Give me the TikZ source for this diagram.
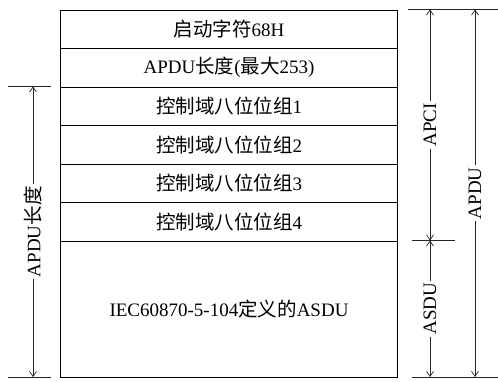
\documentclass[tikz,border=0pt]{standalone}
\usepackage{fontspec}
\setmainfont{Liberation Serif}
\newfontfamily\cjkfont{Noto Sans CJK SC}
\usetikzlibrary{arrows.meta}
\newcommand\zh[1]{{\cjkfont\fontsize{19.5}{21}\selectfont #1}}
\begin{document}
\begin{tikzpicture}[x=1pt,y=-1pt,font=\fontsize{19}{22}\selectfont,
  rowbox/.style={draw,line width=1pt,minimum width=337pt,minimum height=38.5pt,inner sep=0pt,anchor=north west},
  tickline/.style={line width=0.7pt,draw=black!85},
  dimline/.style={line width=0.7pt,draw=black!85,{Straight Barb[length=5pt,width=7pt]}-{Straight Barb[length=5pt,width=7pt]}},
  dimlabel/.style={rotate=90,fill=white,inner xsep=2pt,inner ysep=0pt}]
\useasboundingbox (0,0) rectangle (498,381);
% rows
\node[rowbox] (r1) at (60,9.5) {\zh{启动字符}68H};
\node[rowbox] (r2) at (60,48) {APDU\zh{长度}(\zh{最大}253)};
\node[rowbox] (r3) at (60,86.5) {\zh{控制域八位位组}1};
\node[rowbox] (r4) at (60,125) {\zh{控制域八位位组}2};
\node[rowbox] (r5) at (60,163.5) {\zh{控制域八位位组}3};
\node[rowbox] (r6) at (60,202) {\zh{控制域八位位组}4};
\node[rowbox,minimum height=136.5pt] (r7) at (60,240.5) {IEC60870-5-104\zh{定义的}ASDU};
% left dimension
\coordinate (lt1) at (8,86.5);
\coordinate (lt2) at (50.5,86.5);
\coordinate (lb1) at (8,377);
\coordinate (lb2) at (50.5,377);
\coordinate (la) at (33,86.5);
\coordinate (lz) at (33,377);
\draw[tickline] (lt1) -- (lt2);
\draw[tickline] (lb1) -- (lb2);
\draw[dimline] (la) -- (lz);
\path (la) -- (lz) node[midway,dimlabel] {APDU\zh{长度}};
% right dimensions
\coordinate (rt1) at (408,9.5);
\coordinate (rt2) at (498,9.5);
\coordinate (rm1) at (412,240.5);
\coordinate (rm2) at (455,240.5);
\coordinate (rb1) at (412,377);
\coordinate (rb2) at (498,377);
\draw[tickline] (rt1) -- (rt2);
\draw[tickline] (rm1) -- (rm2);
\draw[tickline] (rb1) -- (rb2);
\coordinate (ci1) at (430,9.5);
\coordinate (ci2) at (430,240.5);
\coordinate (sd2) at (430,377);
\coordinate (pd1) at (475,9.5);
\coordinate (pd2) at (475,377);
\draw[dimline] (ci1) -- (ci2);
\draw[dimline] (ci2) -- (sd2);
\draw[dimline] (pd1) -- (pd2);
\path (ci1) -- (ci2) node[midway,dimlabel] {APCI};
\path (ci2) -- (sd2) node[midway,dimlabel] {ASDU};
\path (pd1) -- (pd2) node[midway,dimlabel] {APDU};
\end{tikzpicture}
\end{document}
